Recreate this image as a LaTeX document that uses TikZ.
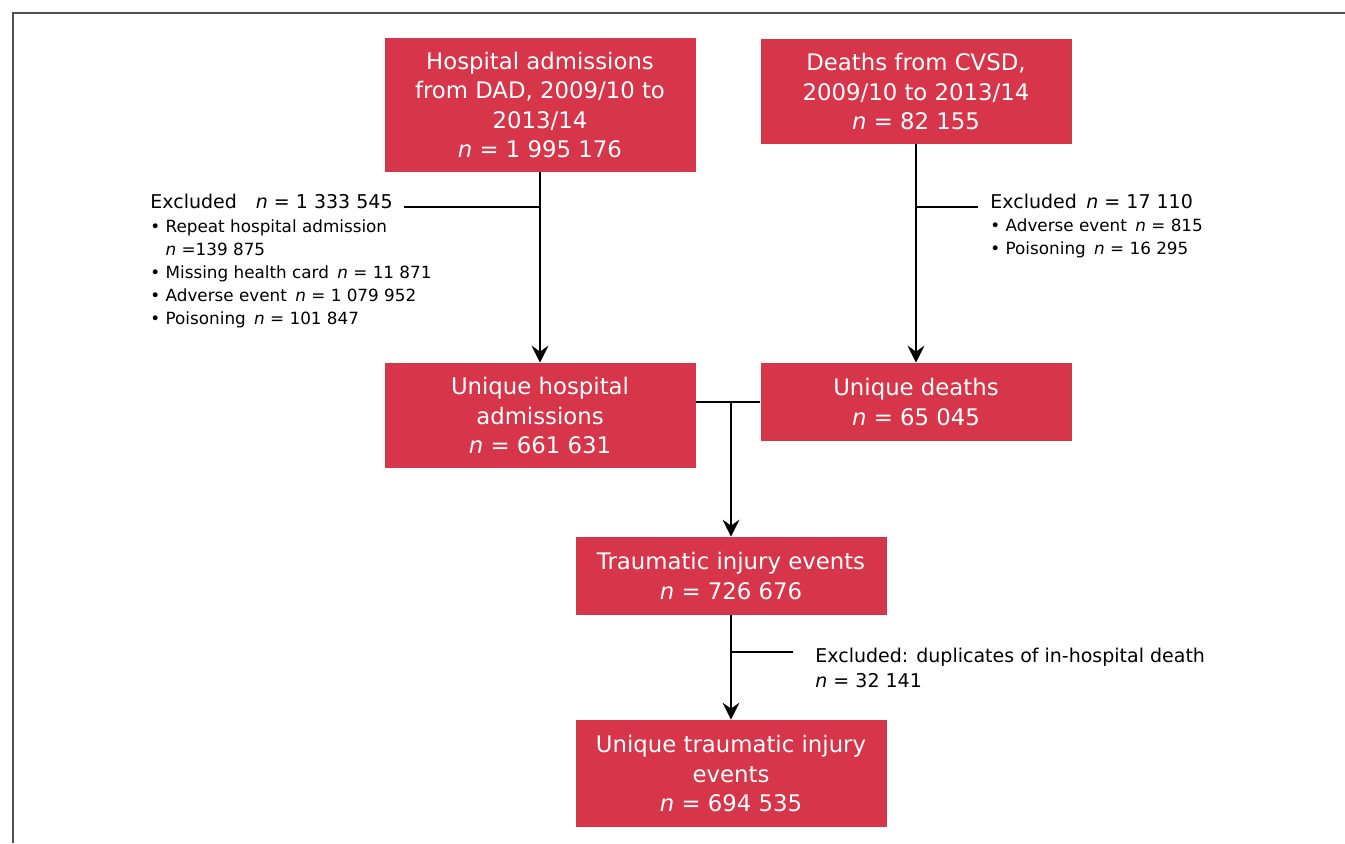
\documentclass[tikz,border=0pt]{standalone}
\usepackage{fontspec}
\setmainfont{DejaVu Sans}
\usetikzlibrary{arrows.meta}
\usetikzlibrary{calc}
\usetikzlibrary{positioning}

\definecolor{flowred}{RGB}{215,53,73}
\definecolor{framegray}{RGB}{80,80,80}

\begin{document}
\begin{tikzpicture}[x=0.5pt,y=-0.5pt,
    flowbox/.style={fill=flowred,text=white,align=center,inner sep=0pt,
      minimum width=155.5pt,minimum height=#1,
      font=\fontsize{11.4}{14.75}\selectfont},
    exhead/.style={inner sep=0pt,align=left,font=\fontsize{9.5}{12.5}\selectfont},
    exlist/.style={inner sep=0pt,align=left,font=\fontsize{8.4}{11.45}\selectfont},
    link/.style={draw,line width=0.6pt},
    arr/.style={link,-{Stealth[length=8.5pt,width=8.5pt,inset=3pt]}}]

  \useasboundingbox (0,0) rectangle (1345,843);
  \draw [line width=1pt,framegray] (1345,13) -- (13,13) -- (13,843);

  \node [flowbox=67pt] (hosp) at (540,105)
    {Hospital admissions\\from DAD, 2009/10 to\\2013/14\\\textit{n} = 1~995~176};
  \node [flowbox=52.5pt] (death) at (916,91.5)
    {Deaths from CVSD,\\2009/10 to 2013/14\\\textit{n} = 82~155};
  \node [flowbox=52.5pt] (uhosp) at (540,415.5)
    {Unique hospital\\admissions\\\textit{n} = 661~631};
  \node [flowbox=39pt] (udeath) at (916,402)
    {Unique deaths\\\textit{n} = 65~045};
  \node [flowbox=39pt] (trauma) at (731,576)
    {Traumatic injury events\\\textit{n} = 726~676};
  \node [flowbox=53.5pt] (utrauma) at (731,773.5)
    {Unique traumatic injury\\events\\\textit{n} = 694~535};

  \node [exhead,anchor=base west] (exHosp) at (150,208)
    {Excluded\quad\textit{n} = 1~333~545};
  \node [exlist,anchor=base west] (listHosp) at (150,324)
    {\textbullet\ Repeat hospital admission\\
     \phantom{\textbullet\ }\textit{n} =139~875\\
     \textbullet\ Missing health card\enspace\textit{n} = 11~871\\
     \textbullet\ Adverse event\enspace\textit{n} = 1~079~952\\
     \textbullet\ Poisoning\enspace\textit{n} = 101~847};

  \node [exhead,anchor=base west] (exDeath) at (990,208)
    {Excluded\enspace\textit{n} = 17~110};
  \node [exlist,anchor=base west] (listDeath) at (990,254)
    {\textbullet\ Adverse event\enspace\textit{n} = 815\\
     \textbullet\ Poisoning\enspace\textit{n} = 16~295};

  \node [exhead,anchor=base west] (exTrauma) at (815,687)
    {Excluded: duplicates of in-hospital death\\\textit{n} = 32~141};

  \coordinate (cutHosp) at (540,207);
  \coordinate (cutDeath) at (916,207);
  \coordinate (cutTrauma) at (731,652);
  \coordinate (meet) at (trauma.north |- udeath.west);

  \path
    (cutHosp) edge [link,shorten >=5.5pt] (cutHosp -| exHosp.east)
    (cutDeath) edge [link,shorten >=6pt] (cutDeath -| exDeath.west)
    (cutTrauma) edge [link,shorten >=11pt] (cutTrauma -| exTrauma.west)
    (udeath.west) edge [link] (udeath.west -| uhosp.east);

  \path
    (hosp) edge [arr] (uhosp)
    (death) edge [arr] (udeath)
    (meet) edge [arr] (trauma)
    (trauma) edge [arr] (utrauma);

\end{tikzpicture}
\end{document}
